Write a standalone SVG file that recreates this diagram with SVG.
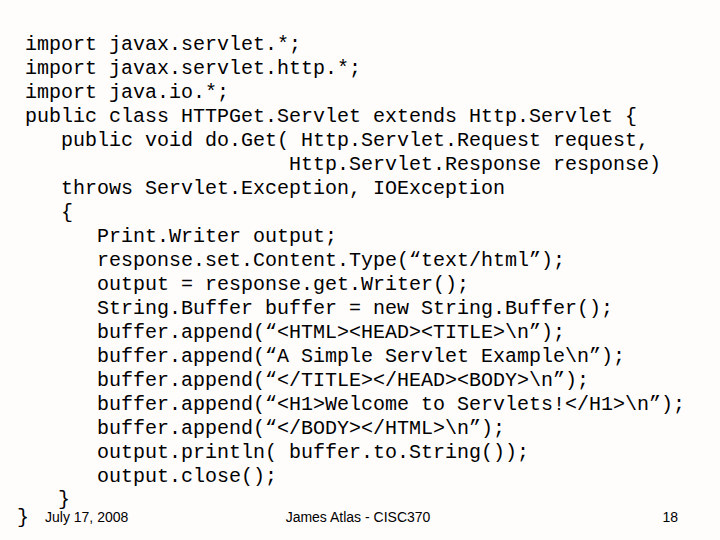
<svg xmlns="http://www.w3.org/2000/svg" width="720" height="540" viewBox="0 0 720 540">
<style>
.c{font-family:"Liberation Mono","Courier New",monospace;font-size:20px;fill:#000;white-space:pre}
.f{font-family:"Liberation Sans",Arial,sans-serif;font-size:14px;fill:#000}
</style>
<rect width="720" height="540" fill="#fffcfc"/>
<g id="code" class="c">
<text x="25" y="50">import javax.servlet.*;</text>
<text x="25" y="74">import javax.servlet.http.*;</text>
<text x="25" y="98">import java.io.*;</text>
<text x="25" y="122">public class HTTPGet.Servlet extends Http.Servlet {</text>
<text x="61" y="146">public void do.Get( Http.Servlet.Request request,</text>
<text x="289" y="170">Http.Servlet.Response response)</text>
<text x="61" y="194">throws Servlet.Exception, IOException</text>
<text x="61" y="218">{</text>
<text x="97" y="242">Print.Writer output;</text>
<text x="97" y="266">response.set.Content.Type(“text/html”);</text>
<text x="97" y="290">output = response.get.Writer();</text>
<text x="97" y="314">String.Buffer buffer = new String.Buffer();</text>
<text x="97" y="338">buffer.append(“&lt;HTML&gt;&lt;HEAD&gt;&lt;TITLE&gt;\n”);</text>
<text x="97" y="362">buffer.append(“A Simple Servlet Example\n”);</text>
<text x="97" y="386">buffer.append(“&lt;/TITLE&gt;&lt;/HEAD&gt;&lt;BODY&gt;\n”);</text>
<text x="97" y="410">buffer.append(“&lt;H1&gt;Welcome to Servlets!&lt;/H1&gt;\n”);</text>
<text x="97" y="434">buffer.append(“&lt;/BODY&gt;&lt;/HTML&gt;\n”);</text>
<text x="97" y="458">output.println( buffer.to.String());</text>
<text x="97" y="482">output.close();</text>
<text x="58" y="505">}</text>
<text x="17" y="523">}</text>
</g>
<g id="footer" class="f">
<text x="45" y="522">July 17, 2008</text>
<text x="358" y="522" text-anchor="middle">James Atlas - CISC370</text>
<text x="678" y="522" text-anchor="end">18</text>
</g>
</svg>
